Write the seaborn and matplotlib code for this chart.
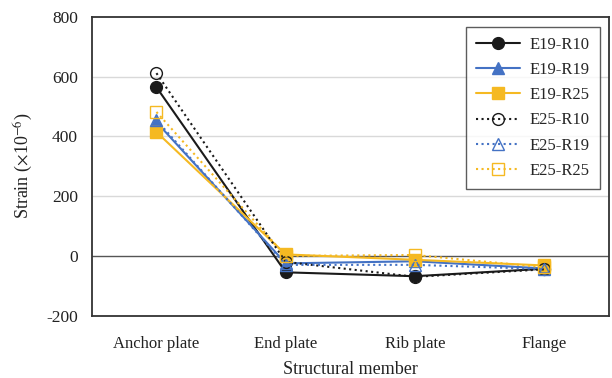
import matplotlib
matplotlib.use("Agg")
import matplotlib.pyplot as plt
import seaborn as sns
import pandas as pd

members = ["Anchor plate", "End plate", "Rib plate", "Flange"]
series_names = ["E19-R10", "E19-R19", "E19-R25", "E25-R10", "E25-R19", "E25-R25"]
e19_r10 = [565, -55, -68, -43]
e19_r19 = [448, -25, -18, -42]
e19_r25 = [415, 5, -13, -32]
e25_r10 = [612, -20, -70, -45]
e25_r19 = [455, -30, -30, -44]
e25_r25 = [482, 0, 3, -38]
values = [e19_r10, e19_r19, e19_r25, e25_r10, e25_r19, e25_r25]

black = "#1a1a1a"
blue = "#4472C4"
gold = "#F5B922"
styles = {
    "E19-R10": dict(color=black, marker="o", ls="-", filled=True),
    "E19-R19": dict(color=blue, marker="^", ls="-", filled=True),
    "E19-R25": dict(color=gold, marker="s", ls="-", filled=True),
    "E25-R10": dict(color=black, marker="o", ls=":", filled=False),
    "E25-R19": dict(color=blue, marker="^", ls=":", filled=False),
    "E25-R25": dict(color=gold, marker="s", ls=":", filled=False),
}

rows = []
for name, vals in zip(series_names, values):
    for i, (m, v) in enumerate(zip(members, vals)):
        rows.append(dict(series=name, member=m, pos=i, strain=v))
df = pd.DataFrame(rows)

sns.set_theme(style="white")
plt.rcParams["font.family"] = ["Liberation Serif", "DejaVu Serif"]
plt.rcParams["mathtext.fontset"] = "stix"
plt.rcParams["axes.unicode_minus"] = False

fig, ax = plt.subplots(figsize=(6.12, 3.78), dpi=100)
fig.subplots_adjust(left=0.150, right=0.995, top=0.955, bottom=0.165)

for name in series_names:
    st = styles[name]
    sub = df[df["series"] == name]
    sns.lineplot(
        data=sub, x="pos", y="strain", ax=ax, label=name,
        color=st["color"], linestyle=st["ls"], linewidth=1.5,
        marker=st["marker"], markersize=8 if st["marker"] != "o" else 8.5,
        markerfacecolor=st["color"] if st["filled"] else "none",
        markeredgecolor=st["color"], markeredgewidth=1.0,
        sort=False, estimator=None,
    )

ax.set_xlim(-0.5, 3.5)
ax.set_ylim(-200, 800)
ax.set_yticks([-200, 0, 200, 400, 600, 800])
ax.set_xticks(range(len(members)))
ax.set_xticklabels(members)
for y in [200, 400, 600]:
    ax.axhline(y, color="#d9d9d9", lw=1.0, zorder=0)
ax.axhline(0, color="#555555", lw=1.0, zorder=0)

ax.tick_params(axis="both", length=0, colors="#222222")
ax.tick_params(axis="y", labelsize=12.5, pad=10)
ax.tick_params(axis="x", labelsize=12, pad=15)
ax.set_xlabel("Structural member", fontsize=13, color="#222222", labelpad=6)
ax.set_ylabel(r"Strain ($\times$10$^{-6}$)", fontsize=13, color="#222222", labelpad=8)
for sp in ax.spines.values():
    sp.set_visible(True)
    sp.set_color("#333333")
    sp.set_linewidth(1.3)

leg = ax.legend(loc="upper right", bbox_to_anchor=(0.998, 0.995), fontsize=12,
                frameon=True, fancybox=False, edgecolor="#333333",
                handlelength=2.6, labelspacing=0.55, borderpad=0.6,
                handletextpad=0.6)
leg.get_frame().set_linewidth(1.0)

fig.savefig("out.png", dpi=100)
